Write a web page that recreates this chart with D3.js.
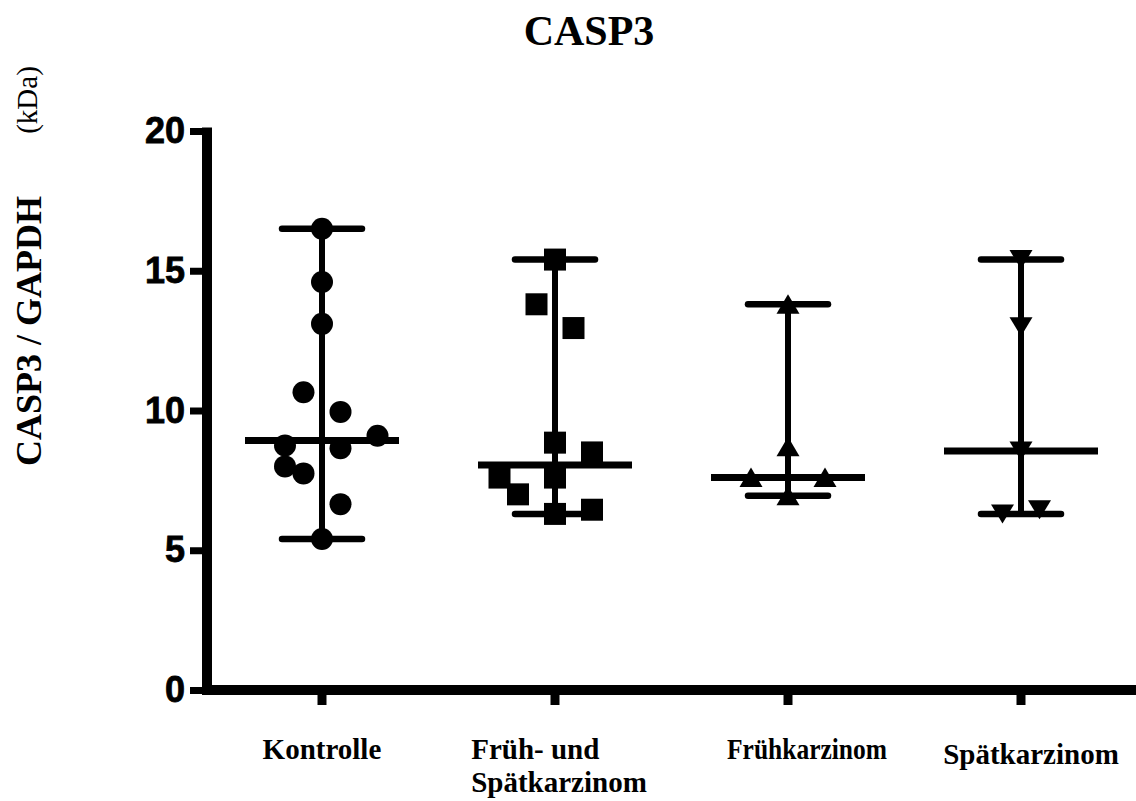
<!DOCTYPE html>
<html>
<head>
<meta charset="utf-8">
<script src="https://cdn.jsdelivr.net/npm/d3@7"></script>
<style>
  html, body { margin: 0; padding: 0; background: #fff; }
  svg { display: block; }
</style>
</head>
<body>
<svg id="chart" width="1136" height="801"></svg>
<script>
// CASP3 / GAPDH ratio per patient group: scatter dot plot with median and range

const categories = ["Kontrolle", "Früh- und Spätkarzinom", "Frühkarzinom", "Spätkarzinom"];
const categoryLabelLines = [["Kontrolle"], ["Früh- und", "Spätkarzinom"], ["Frühkarzinom"], ["Spätkarzinom"]];
const markerShapes = ["circle", "square", "triangleUp", "triangleDown"];

const kontrolleValues = [16.5, 14.6, 13.1, 10.65, 9.95, 9.1, 8.75, 8.65, 8.0, 7.75, 6.65, 5.4];
const fruehSpaetValues = [15.4, 13.8, 12.95, 8.85, 8.5, 7.6, 7.6, 7.0, 6.45, 6.3];
const fruehValues = [13.8, 8.7, 7.6, 7.6, 6.95];
const spaetValues = [15.4, 13.0, 8.55, 6.3, 6.45];

// dodge column of each point (side-by-side placement of overlapping points)
const kontrolleColumns = [0, 0, 0, -1, 1, 3, -2, 1, -2, -1, 1, 0];
const fruehSpaetColumns = [0, -1, 1, 0, 2, -3, 0, -2, 2, 0];
const fruehColumns = [0, 0, -2, 2, 0];
const spaetColumns = [0, 0, 0, -1, 1];

const yTicks = [0, 5, 10, 15, 20];
const titleText = "CASP3";
const yLabelText = "CASP3 / GAPDH";
const yUnitText = "(kDa)";

const groupValues = [kontrolleValues, fruehSpaetValues, fruehValues, spaetValues];
const groupColumns = [kontrolleColumns, fruehSpaetColumns, fruehColumns, spaetColumns];

const svg = d3.select("#chart");
const serif = "'Liberation Serif', 'Times New Roman', serif";
const sans = "'Liberation Sans', Arial, sans-serif";

const axisX = 207;      // centre of the vertical axis line
const axisW = 10;
const y = d3.scaleLinear().domain([0, 20]).range([690, 131]);
const x = d3.scalePoint().domain(categories).range([322, 1021]);
const dodge = d3.scaleLinear().domain([0, 1]).range([0, 18.5]);

// ---- title and axis titles
svg.append("text")
  .attr("x", 589).attr("y", 45)
  .attr("text-anchor", "middle")
  .style("font-family", serif).style("font-weight", "bold").style("font-size", "42px")
  .text(titleText);

svg.append("text")
  .attr("transform", "translate(41,331) rotate(-90)")
  .attr("text-anchor", "middle")
  .style("font-family", serif).style("font-weight", "bold").style("font-size", "36px")
  .text(yLabelText);

svg.append("text")
  .attr("transform", "translate(37,100) rotate(-90)")
  .attr("text-anchor", "middle")
  .style("font-family", serif).style("font-size", "29px")
  .text(yUnitText);

// ---- y axis
const yAxis = svg.append("g")
  .attr("transform", `translate(${axisX - axisW / 2},0)`)
  .call(d3.axisLeft(y).tickValues(yTicks).tickSize(12).tickSizeOuter(0).tickPadding(5).tickFormat(d3.format("d")));
yAxis.select(".domain").remove();
yAxis.selectAll(".tick line").attr("stroke", "#000").attr("stroke-width", 7);
yAxis.selectAll(".tick text")
  .style("font-family", sans).style("font-weight", "bold").style("font-size", "36px")
  .attr("fill", "#000").attr("stroke", "#000").attr("stroke-width", 0.8);

svg.append("line")
  .attr("x1", axisX).attr("x2", axisX)
  .attr("y1", y(0) + axisW / 2).attr("y2", y(20) - 3.5)
  .attr("stroke", "#000").attr("stroke-width", axisW);

// ---- x axis
svg.append("line")
  .attr("x1", axisX - axisW / 2).attr("x2", 1136)
  .attr("y1", y(0)).attr("y2", y(0))
  .attr("stroke", "#000").attr("stroke-width", axisW);

svg.append("g").selectAll("line")
  .data(categories)
  .join("line")
  .attr("x1", d => x(d)).attr("x2", d => x(d))
  .attr("y1", y(0)).attr("y2", y(0) + 15)
  .attr("stroke", "#000").attr("stroke-width", 9);

// category labels: lines left-aligned inside a block, block centred under its tick
// (with the small horizontal nudges and condensing of the original layout)
const labelShift = [[0, 0], [4, 0], [19, 0], [10, 5]];
const labelFit = [null, null, 160, null];
categoryLabelLines.forEach((lines, i) => {
  const t = svg.append("text")
    .style("font-family", serif).style("font-weight", "bold").style("font-size", "29px");
  lines.forEach((ln, j) => {
    const s = t.append("tspan").attr("x", 0).attr("y", 759 + labelShift[i][1] + j * 33).text(ln);
    if (labelFit[i]) s.attr("textLength", labelFit[i]).attr("lengthAdjust", "spacingAndGlyphs");
  });
  const w = t.node().getBBox().width;
  t.selectAll("tspan").attr("x", x(categories[i]) + labelShift[i][0] - w / 2);
});

// ---- markers
const half = 11;
function markerPath(shape) {
  if (shape === "circle") return d3.symbol(d3.symbolCircle, Math.PI * 11 * 11)();
  if (shape === "square") return `M${-half},${-half}H${half}V${half}H${-half}Z`;
  if (shape === "triangleUp") return `M0,-10L11.5,9.5L-11.5,9.5Z`;
  return `M0,9.5L11.5,-9.5L-11.5,-9.5Z`;
}

const plot = svg.append("g");

groupValues.forEach((vals, gi) => {
  const cx = x(categories[gi]);
  const med = d3.median(vals);
  const lo = d3.min(vals), hi = d3.max(vals);

  const g = plot.append("g");

  g.selectAll("path.pt")
    .data(vals.map((v, k) => ({ v, c: groupColumns[gi][k] })))
    .join("path")
    .attr("class", "pt")
    .attr("d", markerPath(markerShapes[gi]))
    .attr("transform", d => `translate(${cx + dodge(d.c)},${y(d.v)})`)
    .attr("fill", "#000");

  // range line with caps and median bar
  g.append("line")
    .attr("x1", cx).attr("x2", cx).attr("y1", y(lo)).attr("y2", y(hi))
    .attr("stroke", "#000").attr("stroke-width", 6);
  [lo, hi].forEach(v => {
    g.append("line")
      .attr("x1", cx - 40).attr("x2", cx + 40).attr("y1", y(v)).attr("y2", y(v))
      .attr("stroke", "#000").attr("stroke-width", 6.5).attr("stroke-linecap", "round");
  });
  g.append("line")
    .attr("x1", cx - 77).attr("x2", cx + 77).attr("y1", y(med)).attr("y2", y(med))
    .attr("stroke", "#000").attr("stroke-width", 7);
});
</script>
</body>
</html>
